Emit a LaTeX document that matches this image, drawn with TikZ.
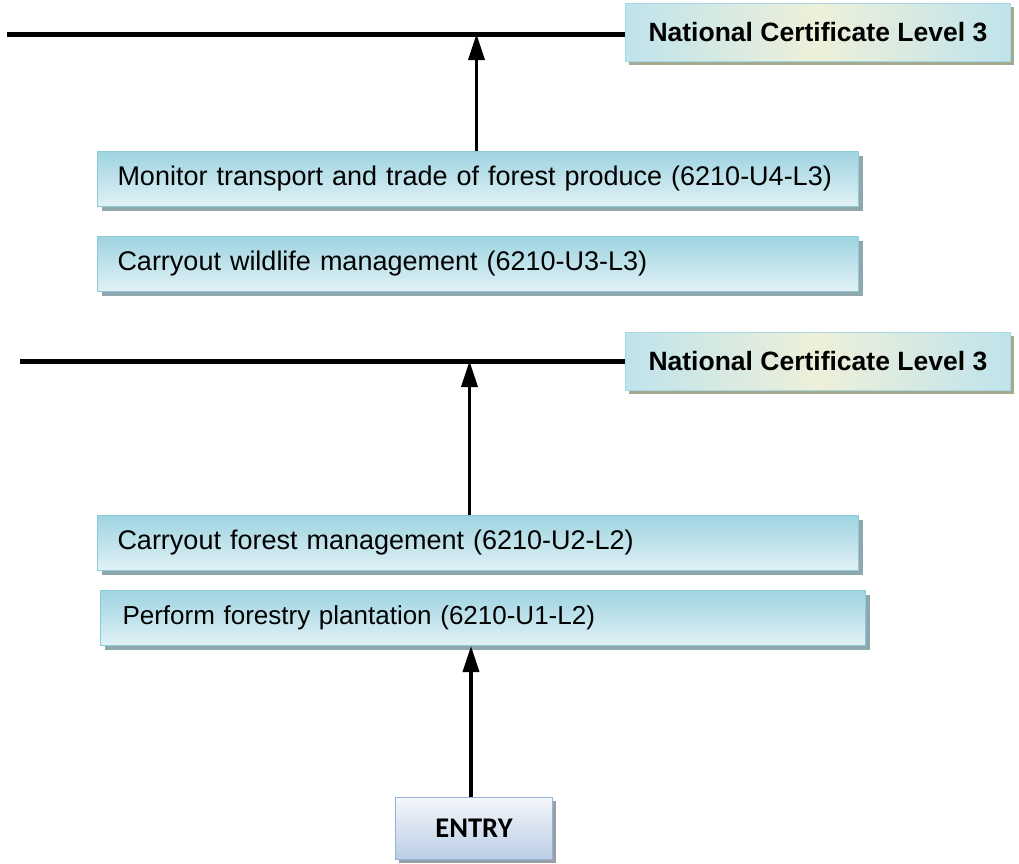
\documentclass[tikz,border=0pt]{standalone}
\usepackage{fontspec}
\setmainfont{Liberation Sans}
\newfontfamily\entryfont{Carlito}
\usetikzlibrary{arrows.meta,shadows}
\definecolor{unittop}{HTML}{9ED4E1}
\definecolor{unitbot}{HTML}{E2F1F6}
\definecolor{unitborder}{HTML}{8ECBD9}
\definecolor{unitshadow}{HTML}{8FA8AE}
\definecolor{nclcyan}{HTML}{BFE3EC}
\definecolor{nclbeige}{HTML}{EEF0D9}
\definecolor{nclborder}{HTML}{A8D8E4}
\definecolor{nclshadow}{HTML}{A3AA90}
\definecolor{entrytop}{HTML}{F4F7FB}
\definecolor{entrybot}{HTML}{BACDE5}
\definecolor{entryborder}{HTML}{95B3D7}
\definecolor{entryshadow}{HTML}{9A9FA6}
\tikzset{
  unitbox/.style={draw=unitborder, line width=1pt, top color=unittop, bottom color=unitbot,
    drop shadow={shadow xshift=4pt, shadow yshift=-4pt, fill=unitshadow, opacity=1},
    anchor=north west, minimum height=55pt, text width=#1, align=left,
    inner xsep=20pt, font=\fontsize{27}{30}\selectfont},
  nclbox/.style={draw=nclborder, line width=0.8pt, left color=nclcyan, right color=nclcyan, middle color=nclbeige,
    drop shadow={shadow xshift=4pt, shadow yshift=-4pt, fill=nclshadow, opacity=1},
    anchor=north west, minimum width=385pt, minimum height=58pt,
    font=\fontsize{26.5}{30}\selectfont\bfseries},
  entrybox/.style={draw=entryborder, line width=1pt, top color=entrytop, bottom color=entrybot,
    drop shadow={shadow xshift=3pt, shadow yshift=-3pt, fill=entryshadow, opacity=1},
    anchor=north west, minimum width=157pt, minimum height=62pt,
    font=\entryfont\fontsize{28.5}{30}\selectfont\bfseries},
  levelline/.style={line width=5pt},
  uparrow/.style={line width=3.5pt, -{Triangle[length=26pt,width=16pt]}},
}
\begin{document}
\begin{tikzpicture}[x=1pt,y=-1pt]
\useasboundingbox (0,0) rectangle (1019,863);
% level lines
\coordinate (l1) at (7,34);
\coordinate (l2) at (20,361);
\draw[levelline] (l1) -- (628,34);
\draw[levelline] (l2) -- (628,361);
% certificate boxes
\node[nclbox] (c1) at (625,3) {National Certificate Level 3};
\node[nclbox] (c2) at (625,332) {National Certificate Level 3};
% unit boxes
\node[unitbox=721pt] (u4) at (97,151) {Monitor transport and trade of forest produce (6210-U4-L3)};
\node[unitbox=721pt] (u3) at (97,236) {Carryout wildlife management (6210-U3-L3)};
\node[unitbox=721pt] (u2) at (97,515) {Carryout forest management (6210-U2-L2)};
\node[unitbox=721pt, inner xsep=22pt, font=\fontsize{26}{30}\selectfont] (u1) at (100,590) {Perform forestry plantation (6210-U1-L2)};
% entry
\node[entrybox] (e) at (395,797) {ENTRY};
% arrows
\draw[uparrow] ([xshift=-1.5pt]u4.north) -- ([xshift=-1.5pt]u4.north |- l1);
\draw[uparrow] ([xshift=-8.5pt]u2.north) -- ([xshift=-8.5pt]u2.north |- l2);
\draw[uparrow] ([xshift=-3pt]e.north) -- ([xshift=-3pt]e.north |- u1.south);
\end{tikzpicture}
\end{document}
